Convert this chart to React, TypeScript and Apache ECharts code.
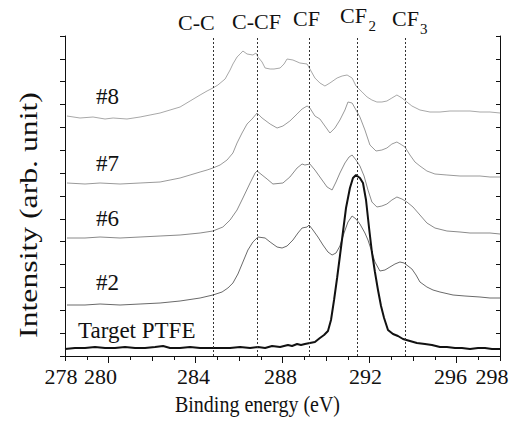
import React, { useEffect, useRef } from "react";
import * as echarts from "echarts";

// Binding energy (eV) and intensity (arb. unit, stacked offsets)
const energy8 = [278.09, 278.69, 279.29, 279.84, 280.21, 280.85, 281.45, 281.91, 282.37, 282.83, 283.29, 283.75, 284.21, 284.53, 284.80, 285.03, 285.36, 285.59, 285.72, 285.91, 286.05, 286.18, 286.37, 286.64, 286.78, 286.87, 287.06, 287.20, 287.43, 287.61, 287.89, 288.07, 288.21, 288.48, 288.80, 289.13, 289.26, 289.49, 289.72, 289.95, 290.18, 290.51, 290.74, 290.97, 291.20, 291.38, 291.66, 291.89, 292.11, 292.34, 292.57, 292.80, 293.03, 293.26, 293.49, 293.72, 293.95, 294.32, 294.78, 295.24, 295.70, 296.16, 296.62, 297.08, 297.54, 298.00];
const intensity8 = [240, 238, 239, 237, 238, 237, 239, 241, 243, 246, 249, 255, 261, 265, 268, 271, 277, 286, 292, 299, 302, 305, 302, 301, 303, 299, 294, 288, 287, 287, 288, 292, 297, 296, 293, 292, 287, 278, 273, 270, 273, 278, 280, 281, 278, 270, 264, 259, 256, 254, 254, 255, 258, 261, 258, 254, 250, 246, 244, 244, 245, 245, 245, 244, 244, 243];

const energy7 = [278.09, 278.92, 279.61, 280.53, 281.45, 282.37, 282.83, 283.29, 283.75, 284.21, 284.53, 284.80, 285.13, 285.45, 285.72, 285.91, 286.14, 286.37, 286.60, 286.83, 287.06, 287.43, 287.75, 288.02, 288.34, 288.67, 288.90, 289.13, 289.26, 289.49, 289.72, 289.95, 290.18, 290.41, 290.64, 290.87, 291.01, 291.20, 291.38, 291.56, 291.79, 292.02, 292.30, 292.57, 292.80, 293.03, 293.26, 293.49, 293.63, 293.86, 294.09, 294.32, 294.64, 295.01, 295.56, 296.16, 296.62, 297.08, 297.54, 298.00];
const intensity7 = [173, 172, 173, 172, 173, 174, 176, 178, 181, 184, 186, 188, 191, 196, 203, 213, 223, 232, 237, 243, 238, 232, 228, 230, 235, 242, 247, 250, 248, 240, 237, 230, 223, 228, 236, 246, 254, 253, 246, 239, 226, 211, 205, 206, 208, 212, 214, 211, 209, 201, 194, 190, 185, 182, 181, 180, 180, 180, 179, 179];

const energy6 = [278.09, 278.92, 279.61, 280.53, 281.45, 282.37, 283.29, 284.21, 284.80, 285.26, 285.59, 285.91, 286.18, 286.51, 286.74, 286.83, 287.06, 287.29, 287.56, 288.02, 288.34, 288.67, 288.90, 289.03, 289.26, 289.49, 289.72, 290.05, 290.28, 290.46, 290.64, 290.87, 291.06, 291.20, 291.38, 291.56, 291.75, 291.93, 292.11, 292.34, 292.57, 292.80, 293.03, 293.26, 293.49, 293.72, 294.00, 294.32, 294.64, 295.01, 295.56, 296.16, 296.62, 297.08, 297.54, 298.00];
const intensity6 = [118, 118, 119, 118, 119, 120, 121, 123, 125, 129, 136, 146, 158, 173, 183, 185, 181, 177, 172, 173, 179, 188, 192, 191, 192, 186, 179, 169, 166, 174, 183, 193, 199, 201, 196, 190, 180, 166, 154, 149, 150, 152, 156, 159, 157, 154, 149, 141, 133, 128, 125, 124, 123, 123, 123, 122];

const energy2 = [278.09, 278.92, 279.61, 280.53, 281.45, 282.37, 283.29, 284.21, 284.80, 285.22, 285.49, 285.72, 285.95, 286.18, 286.41, 286.64, 286.87, 287.20, 287.43, 287.75, 287.98, 288.21, 288.48, 288.71, 288.90, 289.13, 289.22, 289.40, 289.63, 289.86, 290.09, 290.28, 290.46, 290.64, 290.83, 291.01, 291.20, 291.38, 291.56, 291.79, 291.93, 292.11, 292.25, 292.48, 292.71, 292.94, 293.17, 293.40, 293.59, 293.77, 293.95, 294.14, 294.32, 294.64, 294.92, 295.24, 295.84, 296.39, 297.08, 297.54, 298.00];
const intensity2 = [51, 51, 52, 51, 52, 53, 55, 58, 61, 64, 68, 73, 82, 94, 106, 114, 119, 118, 114, 109, 108, 110, 116, 123, 128, 129, 131, 126, 119, 111, 104, 101, 103, 110, 123, 134, 140, 137, 132, 123, 116, 104, 94, 85, 86, 89, 92, 94, 93, 90, 87, 81, 74, 69, 66, 64, 61, 60, 59, 58, 58];

const energyT = [278.00, 278.46, 278.92, 279.38, 279.84, 280.30, 280.76, 281.22, 281.68, 282.14, 282.51, 282.83, 283.29, 283.75, 284.21, 284.67, 285.13, 285.59, 286.05, 286.51, 286.87, 287.20, 287.52, 287.89, 288.25, 288.44, 288.67, 288.85, 289.03, 289.26, 289.49, 289.72, 289.91, 290.09, 290.23, 290.37, 290.51, 290.64, 290.78, 290.92, 291.10, 291.24, 291.38, 291.56, 291.70, 291.84, 291.98, 292.11, 292.25, 292.39, 292.53, 292.67, 292.85, 293.08, 293.31, 293.54, 293.86, 294.18, 294.55, 294.87, 295.24, 295.56, 295.93, 296.25, 296.62, 296.99, 297.31, 297.63, 298.00];
const intensityT = [7, 8, 8, 9, 8, 8, 9, 8, 8, 9, 10, 8, 8, 9, 8, 8, 8, 8, 9, 8, 9, 8, 10, 9, 11, 10, 12, 11, 12, 13, 14, 18, 21, 25, 36, 56, 78, 100, 124, 148, 168, 178, 181, 178, 173, 156, 128, 104, 84, 66, 50, 38, 26, 22, 20, 17, 15, 13, 12, 11, 9, 9, 8, 8, 7, 8, 8, 7, 7];

// Peak reference positions (eV) and their labels
const peakEnergies = [284.8, 286.85, 289.25, 291.45, 293.65];
const xTickLabels = [278, 280, 284, 288, 292, 296, 298];
const majorTicks = [280, 284, 288, 292, 296];
const sampleNames = ["#8", "#7", "#6", "#2", "Target PTFE"];

const FONT = "Liberation Serif";

const pairs = (e: number[], v: number[]) => e.map((x, i) => [x, v[i]]);

export default function App() {
  const ref = useRef<HTMLDivElement>(null);
  useEffect(() => {
    const chart = echarts.init(ref.current!, null, { renderer: "svg" });
    const labelShift: Record<number, number> = { 278: 8, 280: 16, 284: 4, 288: 4, 292: 8, 296: 12, 298: 16 };
    const rich: Record<string, any> = {};
    xTickLabels.forEach((v) => {
      rich["s" + v] = { padding: [0, labelShift[v], 0, 0], fontSize: 22, fontFamily: FONT, color: "#111" };
    });
    const txt = (text: string, x: number, y: number, size: number, extra: any = {}) => ({
      type: "text",
      x,
      y,
      ...extra,
      style: {
        text,
        fontSize: size,
        fontFamily: FONT,
        fill: "#111",
        align: extra.align || "left",
        textAlign: extra.align || "left",
        verticalAlign: "middle",
        textVerticalAlign: "middle",
      },
    });
    const line = (name: string, e: number[], v: number[], color: string, width: number, extra: any = {}) => ({
      type: "line",
      name,
      data: pairs(e, v),
      showSymbol: false,
      symbol: "none",
      smooth: false,
      lineStyle: { color, width },
      z: 3,
      ...extra,
    });
    chart.setOption({
      animation: false,
      backgroundColor: "#fff",
      textStyle: { fontFamily: FONT },
      grid: { left: 65, right: 29, top: 36, bottom: 75, containLabel: false, outerBoundsMode: "none" },
      xAxis: [
        {
          type: "value",
          min: 278,
          max: 298,
          interval: 2,
          position: "bottom",
          axisLine: { show: true, lineStyle: { color: "#111", width: 1 } },
          axisTick: { show: true, inside: false, length: 7, customValues: majorTicks, lineStyle: { color: "#111" } },
          minorTick: { show: true, splitNumber: 2, length: 4, lineStyle: { color: "#111" } },
          splitLine: { show: false },
          axisLabel: {
            show: true,
            margin: 9,
            showMinLabel: true,
            showMaxLabel: true,
            fontSize: 22,
            fontFamily: FONT,
            color: "#111",
            formatter: (v: number) => (xTickLabels.includes(v) ? `{s${v}|${v}}` : ""),
            rich,
          },
        },
        {
          type: "value",
          min: 278,
          max: 298,
          interval: 2,
          position: "top",
          axisLine: { show: true, lineStyle: { color: "#111", width: 1 } },
          axisTick: { show: true, inside: true, length: 5, lineStyle: { color: "#111" } },
          splitLine: { show: false },
          axisLabel: { show: false },
        },
      ],
      yAxis: [
        {
          type: "value",
          min: 0,
          max: 320,
          interval: 320 / 14,
          position: "left",
          axisLine: { show: true, lineStyle: { color: "#111", width: 1 } },
          axisTick: { show: true, inside: false, length: 5, lineStyle: { color: "#111" } },
          splitLine: { show: false },
          axisLabel: { show: false },
        },
        {
          type: "value",
          min: 0,
          max: 320,
          interval: 320 / 14,
          position: "right",
          axisLine: { show: true, lineStyle: { color: "#111", width: 1 } },
          axisTick: { show: true, inside: true, length: 4, lineStyle: { color: "#111" } },
          splitLine: { show: false },
          axisLabel: { show: false },
        },
      ],
      series: [
        line("#8", energy8, intensity8, "#a8a8a8", 1),
        line("#7", energy7, intensity7, "#9a9a9a", 1),
        line("#6", energy6, intensity6, "#8a8a8a", 1),
        line("#2", energy2, intensity2, "#6a6a6a", 1),
        line("Target PTFE", energyT, intensityT, "#111", 2, {
          z: 4,
          markLine: {
            silent: true,
            symbol: ["none", "none"],
            label: { show: false },
            lineStyle: { color: "#333", width: 1, type: [2, 2] },
            data: peakEnergies.map((x) => ({ xAxis: x })),
          },
        }),
      ],
      graphic: [
        txt("C-C", 178, 22.5, 22),
        txt("C-CF", 232, 21.3, 22),
        txt("CF", 293, 18, 22),
        txt("CF", 340, 15, 22),
        txt("2", 368.5, 26, 15),
        txt("CF", 392, 18.3, 22),
        txt("3", 420, 29, 15),
        txt(sampleNames[0], 96, 96, 23),
        txt(sampleNames[1], 96, 163, 23),
        txt(sampleNames[2], 96, 218, 23),
        txt(sampleNames[3], 96, 282.5, 23),
        txt(sampleNames[4], 78, 330, 23),
        txt("Binding energy (eV)", 257.5, 404, 20, { align: "center", scaleY: 1.18 }),
        txt("Intensity (arb. unit)", 28, 215, 26, { align: "center", rotation: Math.PI / 2, scaleX: 1.22 }),
      ],
    });
    return () => chart.dispose();
  }, []);
  return (
    <div
      ref={ref}
      style={{ position: "fixed", left: 0, top: 0, width: 529, height: 431, background: "#fff" }}
    />
  );
}
